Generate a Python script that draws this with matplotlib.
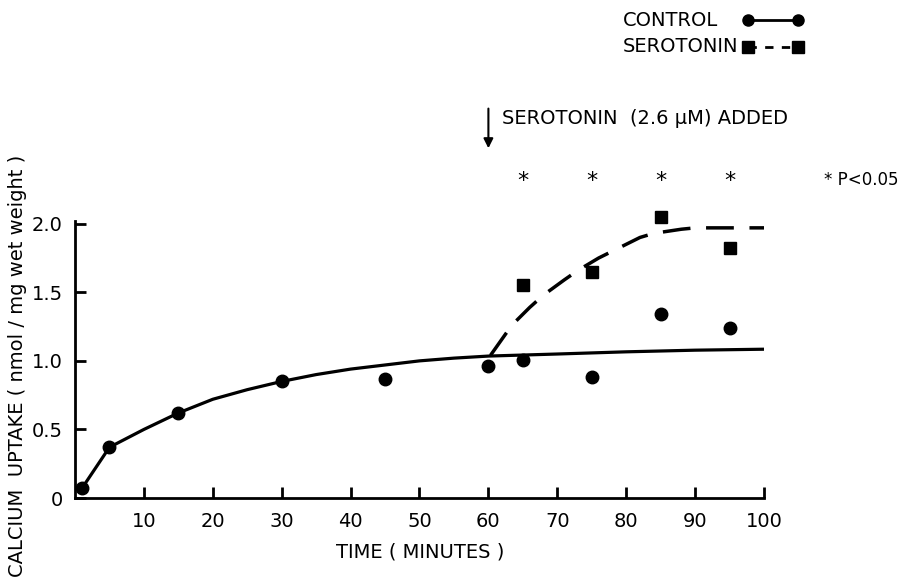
import matplotlib
matplotlib.use("Agg")
import matplotlib.pyplot as plt
from matplotlib.lines import Line2D

# measured points (minutes, nmol/mg wet weight)
control_x = [1, 5, 15, 30, 45, 60, 65, 75, 85, 95]
control_y = [0.07, 0.37, 0.62, 0.85, 0.87, 0.96, 1.01, 0.88, 1.34, 1.24]
sero_x = [65, 75, 85, 95]
sero_y = [1.55, 1.65, 2.05, 1.82]

# hand-drawn fitted curves
control_fit_x = [1, 5, 10, 15, 20, 25, 30, 35, 40, 45, 50, 55, 60, 70, 80, 90, 100]
control_fit_y = [0.07, 0.37, 0.50, 0.62, 0.72, 0.79, 0.85, 0.90, 0.94, 0.97,
                 1.00, 1.02, 1.035, 1.05, 1.066, 1.078, 1.085]
sero_fit_x = [60.3, 63.4, 66.0, 68.0, 71.0, 73.0, 76.0, 78.0, 82.0, 84.0, 88.0, 90.0, 100]
sero_fit_y = [1.04, 1.26, 1.39, 1.48, 1.59, 1.66, 1.75, 1.80, 1.90, 1.93, 1.96, 1.97, 1.97]

star_x = [65, 75, 85, 95]
xticks = [10, 20, 30, 40, 50, 60, 70, 80, 90, 100]
yticks = [0, 0.5, 1.0, 1.5, 2.0]
ytick_labels = ["0", "0.5", "1.0", "1.5", "2.0"]

plt.rcParams["font.family"] = ["DejaVu Sans"]
FS = 14
W, H = 901, 583

fig = plt.figure(figsize=(9.01, 5.83), dpi=100)
ax = fig.add_axes([75 / W, 1 - 498 / H, 689 / W, 277 / H])

ax.plot(control_fit_x, control_fit_y, color="black", lw=2.3, solid_capstyle="round")
ax.plot(sero_fit_x, sero_fit_y, color="black", lw=2.5, dashes=(8, 4.5))
ax.plot(control_x, control_y, "o", color="black", ms=9, clip_on=False)
ax.plot(sero_x, sero_y, "s", color="black", ms=9, clip_on=False)

ax.set_xlim(0, 100)
ax.set_ylim(0, 2.02)
ax.set_xticks(xticks)
ax.set_yticks(yticks)
ax.set_yticklabels(ytick_labels)
for s in ["top", "right"]:
    ax.spines[s].set_visible(False)
for s in ["left", "bottom"]:
    ax.spines[s].set_linewidth(2)
ax.tick_params(direction="in", length=8, width=2, labelsize=FS)
ax.tick_params(axis="x", pad=10)
ax.tick_params(axis="y", pad=9)

fig.text(18 / W, 1 - 366 / H, "CALCIUM  UPTAKE ( nmol / mg wet weight )",
         rotation=90, ha="center", va="center", fontsize=FS)
fig.text(420 / W, 1 - 552 / H, "TIME ( MINUTES )", ha="center", va="center", fontsize=FS)

# serotonin addition arrow and label
ax.annotate("", xy=(60, 2.53), xytext=(60, 2.86), annotation_clip=False,
            arrowprops=dict(arrowstyle="-|>", color="black", lw=1.5, mutation_scale=14))
ax.text(62.0, 2.77, "SEROTONIN  (2.6 μM) ADDED", fontsize=FS, va="center", clip_on=False)

for sx in star_x:
    ax.text(sx, 2.31, "*", fontsize=16, ha="center", va="center", clip_on=False)
fig.text(898 / W, 1 - 180 / H, "* P<0.05", fontsize=12, ha="right", va="center")

# key, top right: labels left-aligned, sample line to the right
key_labels = ["CONTROL", "SEROTONIN"]
key_styles = [dict(marker="o", ls="-"), dict(marker="s", ls=(0, (3, 3)))]
key_rows = [20, 47]
for label, style, row in zip(key_labels, key_styles, key_rows):
    fy = 1 - row / H
    fig.text(623 / W, fy, label, fontsize=FS, ha="left", va="center")
    fig.add_artist(Line2D([748 / W, 798 / W], [fy, fy], transform=fig.transFigure,
                          color="black", lw=2, ms=8, **style))

fig.savefig("out.png", dpi=100)
